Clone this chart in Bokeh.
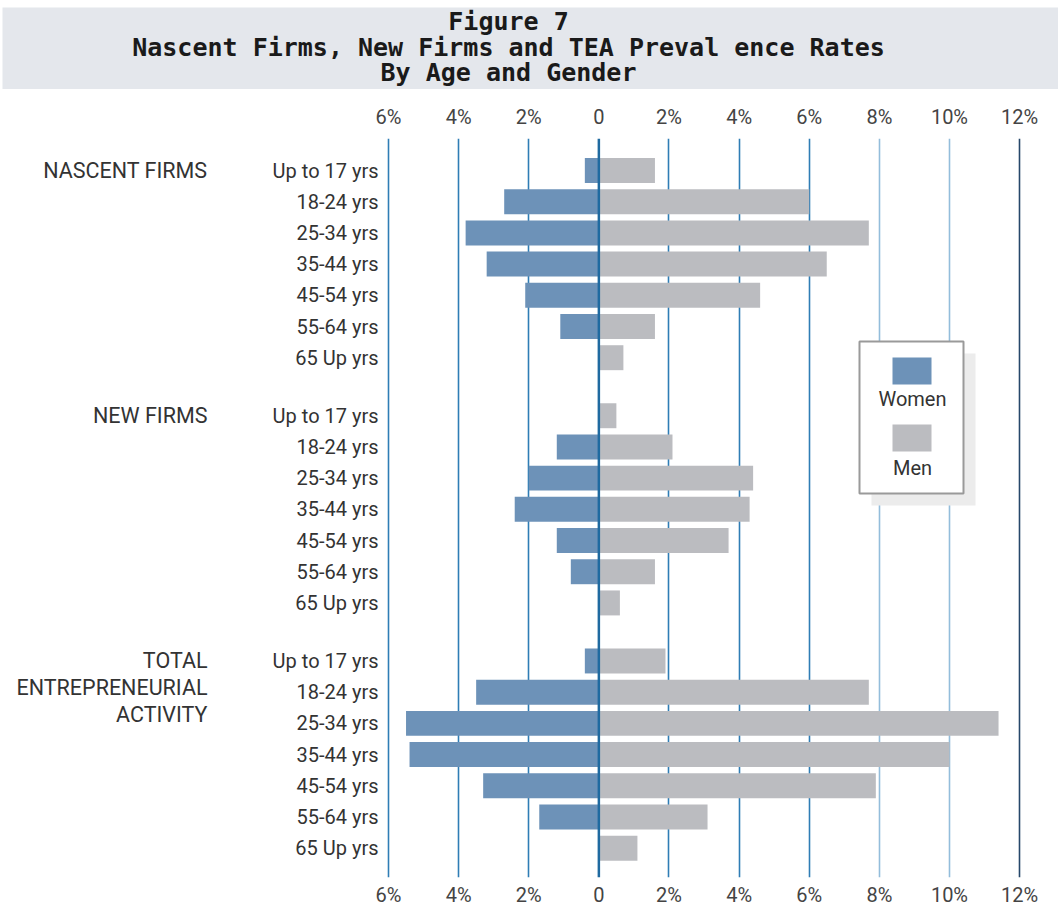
from bokeh.plotting import figure
from bokeh.models import Range1d, LinearAxis, FixedTicker, Grid, Span
from bokeh.layouts import column
from bokeh.core.properties import value
from bokeh.embed import file_html
from bokeh.resources import INLINE

# ---------------- data ----------------
title_lines = ["Figure 7",
               "Nascent Firms, New Firms and TEA Preval ence Rates",
               "By Age and Gender"]
ages = ["Up to 17 yrs", "18-24 yrs", "25-34 yrs", "35-44 yrs",
        "45-54 yrs", "55-64 yrs", "65 Up yrs"]
group_labels = [["NASCENT FIRMS"], ["NEW FIRMS"],
                ["TOTAL", "ENTREPRENEURIAL", "ACTIVITY"]]
women_nascent = [0.4, 2.7, 3.8, 3.2, 2.1, 1.1, 0.0]
men_nascent = [1.6, 6.0, 7.7, 6.5, 4.6, 1.6, 0.7]
women_new = [0.0, 1.2, 2.0, 2.4, 1.2, 0.8, 0.0]
men_new = [0.5, 2.1, 4.4, 4.3, 3.7, 1.6, 0.6]
women_tea = [0.4, 3.5, 5.5, 5.4, 3.3, 1.7, 0.0]
men_tea = [1.9, 7.7, 11.4, 10.0, 7.9, 3.1, 1.1]
tick_values = [-6, -4, -2, 0, 2, 4, 6, 8, 10, 12]
tick_labels = ["6%", "4%", "2%", "0", "2%", "4%", "6%", "8%", "10%", "12%"]
legend_labels = ["Women", "Men"]

WOMEN_C = "#6d92b8"
MEN_C = "#bbbcc0"
TXT = "#333333"
FONT = value("Roboto")

# ---------------- title band ----------------
W = 1058
H1 = 89
t = figure(width=W, height=H1, x_range=Range1d(0, W), y_range=Range1d(H1, 0),
           toolbar_location=None, output_backend="svg", min_border=0,
           outline_line_color=None, background_fill_color="white",
           border_fill_color="white")
t.axis.visible = False
t.grid.visible = False
t.quad(left=[2], right=[W], top=[7], bottom=[H1], fill_color="#e4e7ec",
       line_color=None)
t.text(x=[508] * 3, y=[21, 47, 72], text=title_lines,
       text_font=value("DejaVu Sans Mono"),
       text_font_size="25px", text_font_style="bold", text_color="#1a1a1a",
       text_align="center", text_baseline="middle")

# ---------------- main chart ----------------
H2 = 822
PX = 35.06            # px per percent
RU = 31.2             # px per row
X0 = -6 - 388 / PX
X1 = X0 + W / PX
FRAME_TOP, FRAME_BOT = 138 - H1, 877 - H1
Y0 = -(170 - 138) / RU
Y1 = Y0 + (FRAME_BOT - FRAME_TOP) / RU
GROUP_STEP = 7.86


def xd(page_x):
    return X0 + page_x / PX


def yd(page_y):
    return Y0 + (page_y - 138) / RU


p = figure(width=W, height=H2, x_range=Range1d(X0, X1), y_range=Range1d(Y1, Y0),
           toolbar_location=None, output_backend="svg",
           x_axis_location=None, y_axis_location=None,
           min_border_left=0, min_border_right=0,
           min_border_top=FRAME_TOP, min_border_bottom=H2 - FRAME_BOT,
           outline_line_color=None, background_fill_color="white",
           border_fill_color="white")
p.grid.visible = False

for ticks, col in (([-6, -4, -2, 2, 4, 6], "#2f7db5"),
                   ([8, 10], "#93bddb"),
                   ([12], "#26476a")):
    g = Grid(dimension=0, ticker=FixedTicker(ticks=ticks),
             grid_line_color=col, grid_line_width=1.6)
    p.add_layout(g)

for loc in ("above", "below"):
    ax = LinearAxis(ticker=FixedTicker(ticks=tick_values),
                    major_label_overrides={v: l for v, l in zip(tick_values, tick_labels)},
                    axis_line_color=None, major_tick_line_color=None,
                    minor_tick_line_color=None, major_tick_out=0,
                    major_label_standoff=10 if loc == "above" else 5,
                    major_label_text_font="Roboto",
                    major_label_text_font_size="20px",
                    major_label_text_color="#444444")
    p.add_layout(ax, loc)

women = [women_nascent, women_new, women_tea]
men = [men_nascent, men_new, men_tea]
ys, wv, mv, labs = [], [], [], []
for gi in range(3):
    for i, a in enumerate(ages):
        ys.append(gi * GROUP_STEP + i)
        wv.append(-women[gi][i])
        mv.append(men[gi][i])
        labs.append(a)

p.hbar(y=ys, left=wv, right=0, height=0.8, fill_color=WOMEN_C, line_color=None)
p.hbar(y=ys, left=0, right=mv, height=0.8, fill_color=MEN_C, line_color=None)

p.add_layout(Span(location=0, dimension="height", line_color="#1f6aa0",
                  line_width=2.5))

p.text(x=[xd(378)] * len(ys), y=ys, text=labs, text_font=FONT,
       text_font_size="20px", text_color=TXT, text_align="right",
       text_baseline="middle")

gx, gy, gt = [], [], []
for gi, lines in enumerate(group_labels):
    for k, line in enumerate(lines):
        gx.append(xd(207))
        gy.append(gi * GROUP_STEP + k * 27 / RU)
        gt.append(line)
p.text(x=gx, y=gy, text=gt, text_font=FONT, text_font_size="21.5px",
       text_color=TXT, text_align="right", text_baseline="middle")

# legend box
p.quad(left=[xd(871)], right=[xd(975)], top=[yd(353)], bottom=[yd(505)],
       fill_color="#ececec", line_color=None)
p.quad(left=[xd(859)], right=[xd(963)], top=[yd(341)], bottom=[yd(493)],
       fill_color="white", line_color="#9a9a9a", line_width=2)
p.quad(left=[xd(892)] * 2, right=[xd(931)] * 2, top=[yd(357), yd(424)],
       bottom=[yd(384), yd(451)], fill_color=[WOMEN_C, MEN_C], line_color=None)
p.text(x=[xd(912)] * 2, y=[yd(398), yd(467)], text=legend_labels, text_font=FONT,
       text_font_size="20px", text_color=TXT, text_align="center",
       text_baseline="middle")

layout = column(t, p, spacing=0)
open("out.html", "w").write(file_html(layout, INLINE))
